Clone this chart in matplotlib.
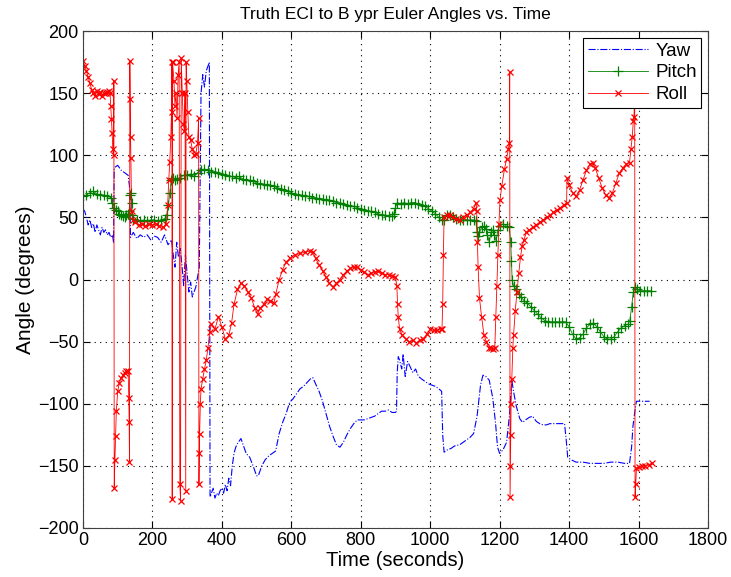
import matplotlib
matplotlib.use("Agg")
import matplotlib.pyplot as plt

# ---------------- data ----------------
yaw_t = [0,5,10,15,20,25,30,35,40,45,50,55,60,65,70,75,80,85,88,
         90,100,110,120,130,134,
         137,145,155,165,175,185,195,205,215,225,235,245,255,260,265,270,275,280,285,290,295,300,305,310,315,320,325,330,335,
         340,345,350,355,360,364,366,370,375,380,385,390,395,400,405,410,415,420,425,430,435,440,445,450,455,460,470,480,490,500,505,
         515,525,535,545,555,565,575,585,595,605,615,625,635,645,655,662,670,680,690,700,710,720,730,740,750,760,770,780,790,800,810,
         820,830,840,850,860,870,880,890,900,903,905,908,912,918,922,928,935,942,950,958,966,975,985,995,1005,1015,1025,1033,1036,1040,
         1050,1060,1070,1085,1100,1115,1125,1135,1145,1152,1160,1170,1180,1188,1194,1200,1210,1220,1228,1235,1240,1248,1258,1266,1275,
         1285,1295,1305,1315,1325,1335,1345,1355,1365,1375,1387,1392,1396,1405,1420,1440,1460,1480,1500,1520,1540,1560,1574,1580,1584,
         1590,1594,1610,1625,1632]
yaw_v = [57,55,50,44,48,42,45,38,44,40,36,42,38,40,36,38,34,36,30,
         90,92,88,86,84,75,
         34,38,33,36,34,36,32,35,34,30,36,28,32,20,10,30,18,25,12,-5,20,5,-10,-2,-14,-10,-6,2,10,
         150,165,155,168,172,175,-175,-172,-168,-176,-172,-174,-170,-168,-172,-165,-170,-160,-166,-150,-140,-135,-132,-130,-128,-132,-140,-143,-150,-158,-158,
         -150,-145,-142,-140,-138,-124,-115,-108,-99,-96,-92,-88,-86,-83,-80,-79,-84,-90,-98,-108,-118,-126,-133,-135,-131,-125,-120,-116,-113,-113,-113,
         -112,-111,-110,-108,-106,-106,-105,-107,-107,-106,-75,-62,-65,-72,-60,-78,-66,-70,-75,-72,-78,-80,-82,-84,-85,-86,-88,-90,-125,-139,
         -137,-136,-134,-133,-130,-127,-124,-110,-85,-77,-78,-81,-95,-115,-135,-140,-137,-131,-110,-81,-90,-102,-112,-115,-113,
         -111,-110,-114,-116,-117,-117,-116,-116,-116,-116,-116,-130,-143,-145,-147,-147,-148,-148,-148,-147,-147,-148,-148,-135,-118,
         -105,-98,-98,-98,-98]

pitch_t = [0,10,20,30,40,50,60,70,80,85,90,95,100,105,110,115,120,125,130,134,136,138,140,142,145,155,165,175,185,195,205,215,225,235,
           242,246,250,254,258,265,270,280,290,300,310,320,330,340,350,360,370,380,390,400,410,420,430,440,450,460,470,480,490,500,510,
           520,530,540,550,560,570,580,590,600,610,620,630,640,650,660,670,680,690,700,710,720,730,740,750,760,770,780,790,800,810,820,
           830,840,850,860,870,880,890,895,900,905,915,925,935,945,955,965,975,985,995,1005,1015,1025,1033,1040,1048,1056,1065,1075,1085,
           1095,1105,1115,1125,1132,1135,1138,1142,1148,1155,1160,1165,1170,1175,1180,1185,1190,1195,1200,1210,1220,1228,1232,1234,1236,
           1240,1248,1255,1262,1270,1280,1290,1300,1310,1320,1330,1340,1350,1360,1370,1380,1390,1400,1410,1420,1430,1440,1450,1460,1470,
           1480,1490,1500,1510,1520,1530,1540,1550,1560,1570,1575,1580,1585,1590,1595,1605,1615,1625,1635]
pitch_v = [67,68,70,71,69,68,68,67,66,62,58,56,55,53,52,51,50,52,53,55,68,70,62,52,49,48,47,48,47,48,48,47,48,49,
           52,60,70,80,82,80,81,82,84,84,85,83,86,88,89,88,87,87,86,85,84,83,83,82,83,81,80,80,79,78,77,
           77,76,76,75,74,73,72,71,70,69,68,68,67,67,66,66,65,65,64,64,63,62,62,61,60,59,59,58,57,56,55,
           55,54,53,52,52,51,51,53,58,62,61,62,61,62,62,61,60,59,57,55,53,50,48,48,52,52,50,49,48,
           48,48,48,48,47,38,35,38,42,43,41,36,30,38,40,36,31,40,43,45,43,42,30,15,0,
           -5,-8,-12,-14,-17,-19,-22,-25,-28,-31,-33,-34,-34,-34,-34,-34,-34,-38,-44,-48,-47,-44,-39,-36,-35,
           -38,-42,-46,-48,-48,-46,-42,-39,-37,-36,-33,-22,-10,-6,-8,-9,-9,-9,-9]

roll_t = [0,5,10,15,20,25,30,35,40,45,50,55,60,65,70,75,78,80,82,84,86,88,89,90,92,94,96,100,105,110,115,120,125,130,132,133,134,
          135,136,137,138,140,145,150,160,170,180,190,200,210,220,230,240,244,247,250,253,255,256,257,258,262,265,268,271,274,277,279,
          281,283,286,289,292,294,296,297,299,302,305,310,315,320,325,330,333,334,335,336,338,340,345,350,355,360,365,370,380,390,400,
          410,420,428,435,445,455,465,475,485,495,503,510,520,530,540,550,555,565,575,585,595,610,625,640,655,662,670,680,690,700,710,
          720,730,740,750,760,770,780,790,800,810,820,830,840,850,860,870,880,890,900,904,906,908,912,920,930,940,950,960,970,980,990,
          1000,1010,1020,1030,1034,1036,1038,1040,1048,1056,1065,1075,1085,1095,1105,1115,1125,1132,1134,1136,1138,1142,1148,1155,1162,
          1168,1175,1182,1186,1189,1192,1195,1198,1201,1206,1214,1220,1225,1228,1229,1230,1231,1232,1233,1235,1238,1240,1245,1250,1255,
          1260,1265,1270,1277,1285,1295,1305,1315,1325,1335,1345,1355,1365,1375,1385,1393,1394,1400,1410,1420,1430,1440,1450,1460,1468,
          1475,1485,1495,1505,1516,1525,1535,1545,1555,1565,1574,1578,1582,1585,1587,1589,1590,1592,1594,1600,1610,1620,1630,1638]
roll_v = [176,172,168,163,158,153,150,148,152,149,151,148,150,150,151,152,150,140,129,118,105,100,160,-168,-145,-126,-106,-90,-83,-79,-77,-75,-74,-74,-95,-115,-147,
          176,145,115,98,55,48,46,44,45,43,45,44,45,43,42,45,60,80,95,115,135,175,-177,175,160,140,150,130,165,175,-165,
          -178,178,150,125,120,150,-170,175,160,135,115,112,105,100,101,110,130,-165,-140,-124,-100,-88,-80,-72,-65,-55,-42,-36,-40,-30,-38,
          -48,-45,-35,-20,-8,-3,-5,-10,-15,-23,-28,-23,-20,-16,-17,-19,-12,0,8,14,17,20,21,22,23,22,17,12,7,2,-3,
          -6,-3,0,4,7,9,10,10,8,6,4,5,6,7,5,4,4,3,2,-5,-20,-30,-40,-45,-48,-50,-49,-51,-49,-48,-44,
          -40,-41,-41,-40,-40,-20,20,50,52,52,50,49,48,50,52,54,57,62,55,30,10,-15,-30,-45,-50,
          -55,-55,-56,-55,-30,-5,20,45,64,75,89,97,105,110,167,-175,-150,-125,-100,-80,-55,-45,-25,-10,5,
          18,27,32,38,40,42,44,46,48,50,52,54,56,58,60,62,82,76,70,67,72,80,88,93,94,
          90,82,74,68,66,70,78,86,90,93,94,105,115,128,131,155,-175,-165,-152,-151,-150,-150,-149,-148]

x_ticks = [0, 200, 400, 600, 800, 1000, 1200, 1400, 1600, 1800]
y_ticks = [-200, -150, -100, -50, 0, 50, 100, 150, 200]

# ---------------- figure ----------------
plt.rcParams['font.family'] = ['Liberation Sans', 'DejaVu Sans']
fig = plt.figure(figsize=(7.31, 5.77), dpi=100)
ax = fig.add_axes([0.1135, 0.085, 0.855, 0.861])

ax.plot(yaw_t, yaw_v, linestyle='-.', color=(0, 0, 1), linewidth=0.8, label='Yaw')
ax.plot(pitch_t, pitch_v, linestyle='-', color=(0, 0.5, 0), linewidth=0.6,
        marker='+', markersize=7, markeredgewidth=0.9, label='Pitch')
ax.plot(roll_t, roll_v, linestyle='-', color=(1, 0, 0), linewidth=0.6,
        marker='x', markersize=4.5, markeredgewidth=0.9, label='Roll')

ax.set_xlim(0, 1800)
ax.set_ylim(-200, 200)
ax.set_xticks(x_ticks)
ax.set_yticks(y_ticks)
ax.tick_params(direction='in', top=True, right=True, labelsize=13, length=5, width=0.8, pad=3)
for s in ax.spines.values():
    s.set_linewidth(0.8)
    s.set_color('#404040')
ax.grid(True, linestyle=(0, (1, 4)), color='black', linewidth=0.8)

ax.set_title('Truth ECI to B ypr Euler Angles vs. Time', fontsize=12.5, pad=9)
ax.set_xlabel('Time (seconds)', fontsize=14.5, labelpad=1)
ax.set_ylabel('Angle (degrees)', fontsize=15, labelpad=2)

leg = ax.legend(loc='upper right', fontsize=13.5, numpoints=1, fancybox=False,
                framealpha=1, edgecolor='black', borderaxespad=0.35,
                handlelength=3.2, handletextpad=0.4, borderpad=0.25, labelspacing=0.25)
leg.get_frame().set_linewidth(0.8)

fig.savefig('out.png', dpi=100)
